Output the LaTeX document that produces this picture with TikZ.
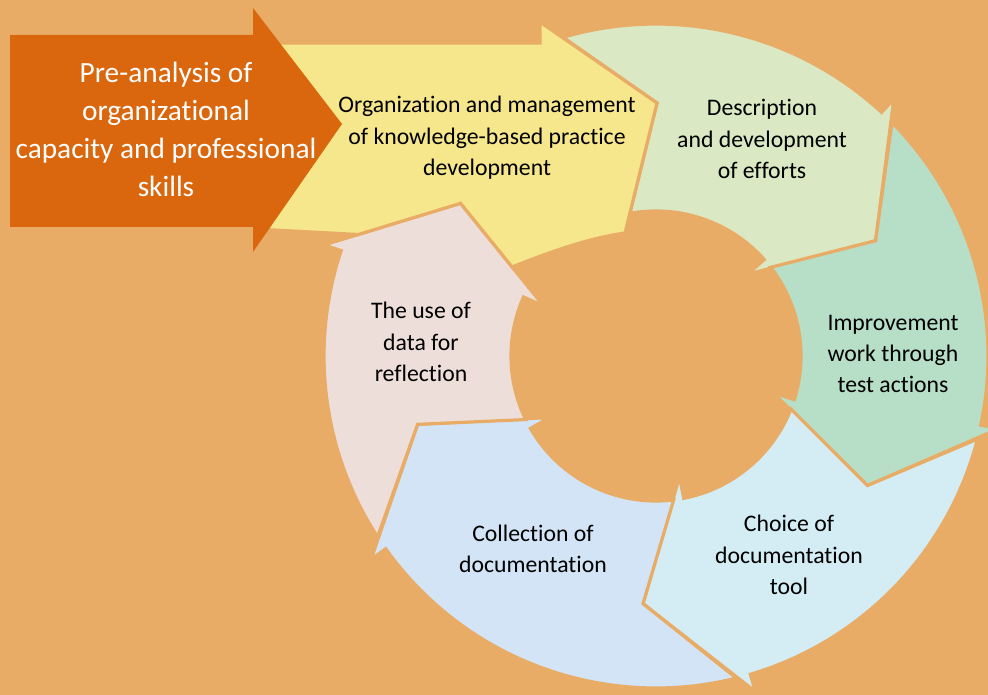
\documentclass[tikz,border=0pt]{standalone}
\usepackage{fontspec}
\setmainfont{Carlito}[RawFeature=-liga]
\usetikzlibrary{calc}

\definecolor{bgorange}{RGB}{232,172,102}
\definecolor{preorange}{RGB}{218,103,14}
\definecolor{cycyellow}{RGB}{246,230,140}
\definecolor{cycgreen}{RGB}{219,232,196}
\definecolor{cycteal}{RGB}{183,222,199}
\definecolor{cyccyan}{RGB}{212,237,244}
\definecolor{cycblue}{RGB}{210,228,246}
\definecolor{cycpink}{RGB}{237,222,217}

\tikzset{every picture/.style={line width=0.75pt}}
\tikzset{
  ring/.style={draw=bgorange, line width=2.4pt, line join=miter},
  cyctext/.style={align=center, inner sep=0.75pt, font=\fontsize{17.8}{23.6}\selectfont},
  pretext/.style={align=center, inner sep=0.75pt, text=white, font=\fontsize{22}{28.5}\selectfont},
}

\begin{document}
\begin{tikzpicture}[x=0.75pt,y=0.75pt,yscale=-1,xscale=1]
\useasboundingbox (0,0) rectangle (988,695);
\clip (0,0) rectangle (988,695);
%Shape: Rectangle [background]
\fill [bgorange] (0,0) rectangle (988,695);

%yellow arrow head
\coordinate (ybarbup) at (540,22);
\coordinate (ytip) at (657,103);
\coordinate (ybarblow) at (625,233);

\begin{scope}[shift={(656,356)}]
%pink arrow head
\coordinate (pob) at (198.5:350);
\coordinate (ptip) at (218:248);
\coordinate (pib) at (204:123);

%Shape: Arc Arrow [green]
\draw [ring, fill=cycgreen] (-106.25:332) arc[start angle=-106.25, end angle=-47.2, radius=332] -- (-47.2:350) -- (-27.7:248) -- (-41.7:123) -- (-41.7:145) arc[start angle=-41.7, end angle=-100.4, radius=145] -- (ytip) -- cycle;
%Shape: Arc Arrow [teal]
\draw [ring, fill=cycteal] (-44.7:332) arc[start angle=-44.7, end angle=12, radius=332] -- (12:350) -- (31.5:248) -- (17.5:123) -- (17.5:145) arc[start angle=17.5, end angle=-37.7, radius=145] -- (-27.7:248) -- cycle;
%Shape: Arc Arrow [cyan]
\draw [ring, fill=cyccyan] (14.5:332) arc[start angle=14.5, end angle=73.5, radius=332] -- (73.5:350) -- (93:248) -- (79:123) -- (79:145) arc[start angle=79, end angle=21.5, radius=145] -- (31.5:248) -- cycle;
%Shape: Arc Arrow [blue]
\draw [ring, fill=cycblue] (76:332) arc[start angle=76, end angle=144.5, radius=332] -- (144.5:350) -- (164:248) -- (150:123) -- (150:145) arc[start angle=150, end angle=83, radius=145] -- (93:248) -- cycle;
%Shape: Arc Arrow [pink]
\draw [ring, fill=cycpink] (147:332) arc[start angle=147, end angle=198.5, radius=332] -- (pob) -- (ptip) -- (pib) -- (204:145) arc[start angle=204, end angle=154, radius=145] -- (164:248) -- cycle;
\end{scope}

%Shape: Block Arrow [yellow]
\draw [ring, fill=cycyellow] (ybarbup) -- (ytip) -- (ybarblow) .. controls (590,238) and (555,250) .. ($(ptip)!0.62!(pib)$) -- (ptip) -- ($(pob)!0.25!(ptip)$) -- (255,229) -- (255,43) -- (540,43) -- cycle;

%Shape: Block Arrow [orange]
\fill [preorange] (10,35) -- (253,35) -- (253,8) -- (342,124) -- (253,252) -- (253,227) -- (10,227) -- cycle;

% Text Node
\node [pretext] (pretxt) at (166,129) {Pre-analysis of\\organizational\\capacity and professional\\skills};
% Text Node
\node [cyctext] (orgtxt) at (487,138) {Organization and management\\of knowledge-based practice\\development};
% Text Node
\node [cyctext] (desctxt) at (762,139) {Description\\and development\\of efforts};
% Text Node
\node [cyctext] (imprtxt) at (893,354) {Improvement\\work through\\test actions};
% Text Node
\node [cyctext] (choicetxt) at (789,555) {Choice of\\documentation\\tool};
% Text Node
\node [cyctext] (colltxt) at (533,549) {Collection of\\documentation};
% Text Node
\node [cyctext] (datatxt) at (421,342) {The use of\\data for\\reflection};

\end{tikzpicture}
\end{document}
